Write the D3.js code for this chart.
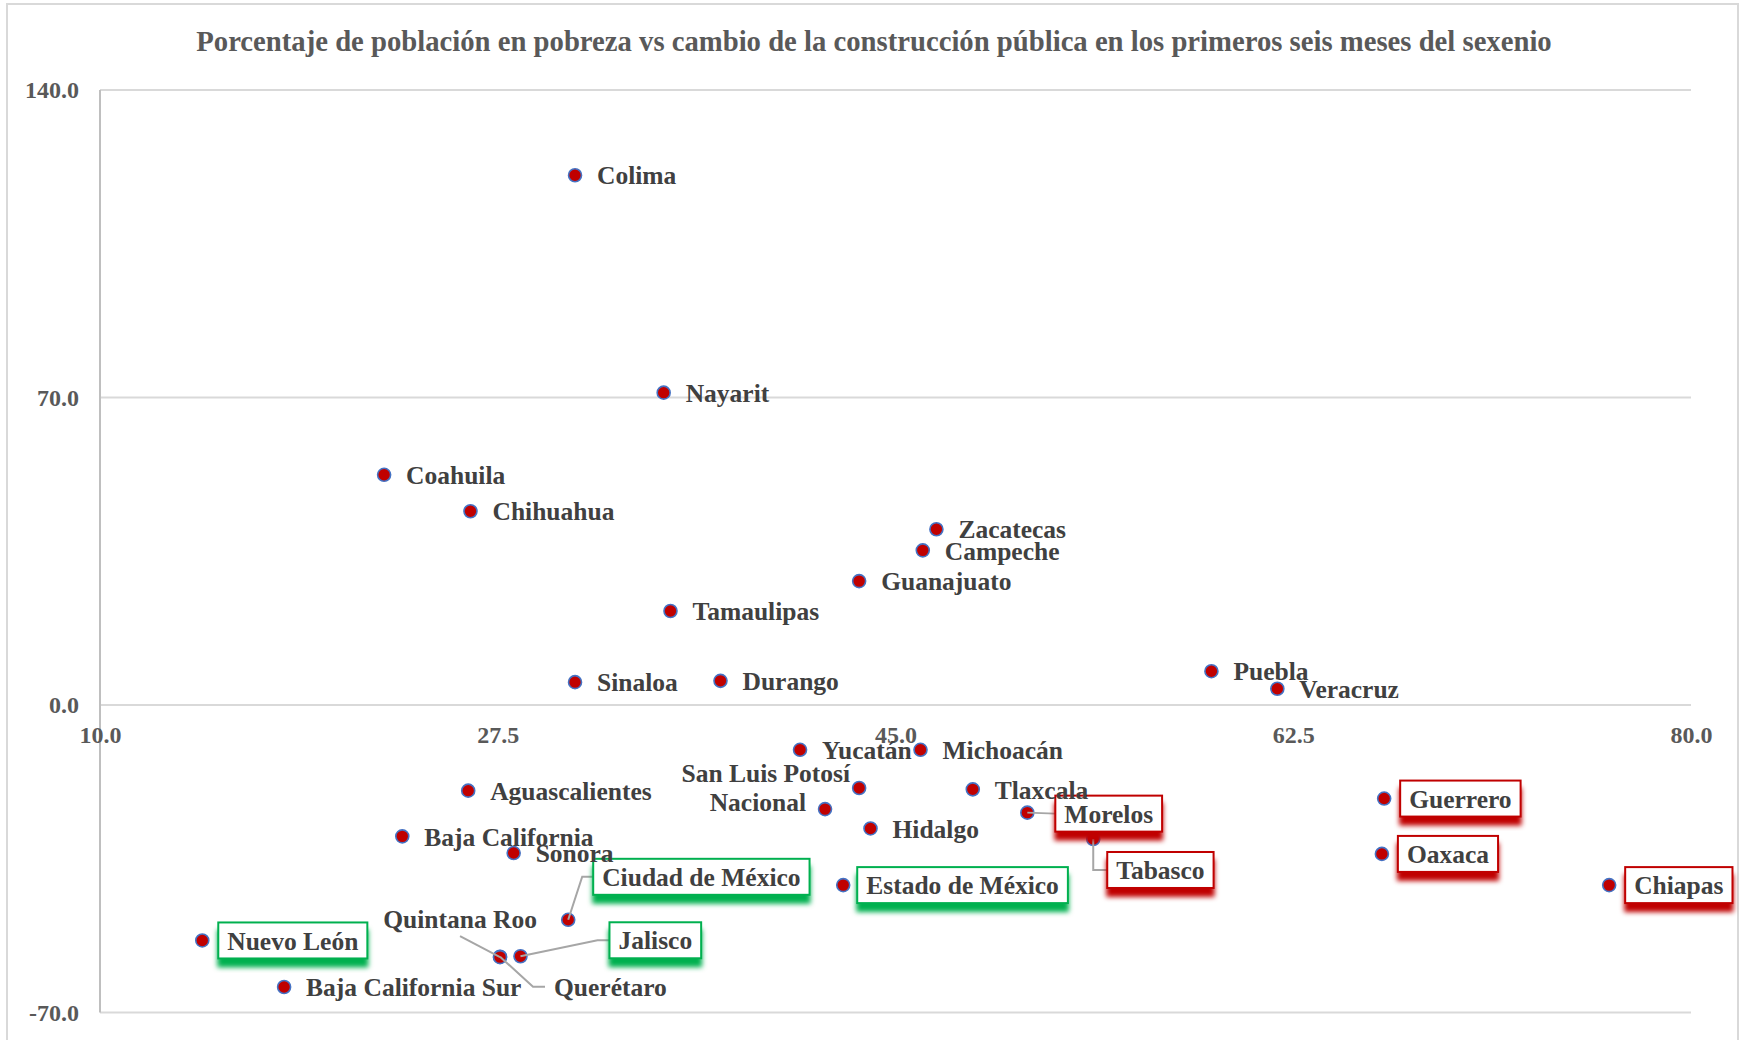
<!DOCTYPE html>
<html>
<head>
<meta charset="utf-8">
<script src="https://cdn.jsdelivr.net/npm/d3@7"></script>
<style>
  body { margin: 0; background: #fff; }
  text { font-family: "Liberation Serif", "Times New Roman", serif; font-weight: bold; }
</style>
</head>
<body>
<div id="chart"></div>
<script>
const title = "Porcentaje de población en pobreza vs cambio de la construcción pública en los primeros seis meses del sexenio";

const states = [
  "Aguascalientes", "Baja California", "Baja California Sur", "Campeche", "Chiapas",
  "Chihuahua", "Ciudad de México", "Coahuila", "Colima", "Durango",
  "Estado de México", "Guanajuato", "Guerrero", "Hidalgo", "Jalisco",
  "Michoacán", "Morelos", "Nayarit", "Nuevo León", "Oaxaca",
  "Puebla", "Querétaro", "Quintana Roo", "San Luis Potosí", "Sinaloa",
  "Sonora", "Tabasco", "Tamaulipas", "Tlaxcala", "Veracruz",
  "Yucatán", "Zacatecas", "Nacional"
];
// % de población en pobreza
const poverty = [
  26.2, 23.3, 18.1, 46.2, 76.4,
  26.3, 30.6, 22.5, 30.9, 37.3,
  42.7, 43.4, 66.5, 43.9, 28.5,
  46.1, 50.8, 34.8, 14.5, 66.4,
  58.9, 27.6, 27.6, 43.4, 30.9,
  28.2, 53.7, 35.1, 48.4, 61.8,
  40.8, 46.8, 41.9
];
// cambio de la construcción pública (%)
const change = [
  -19.5, -29.9, -64.2, 35.2, -41.0,
  44.1, -48.9, 52.4, 120.6, 5.5,
  -41.0, 28.2, -21.3, -28.1, -57.2,
  -10.2, -24.5, 71.1, -53.6, -33.9,
  7.7, -57.3, -57.4, -18.9, 5.2,
  -33.7, -30.5, 21.4, -19.2, 3.7,
  -10.2, 40.0, -23.7
];
const xTicks = [10, 27.5, 45, 62.5, 80];
const yTicks = [-70, 0, 70, 140];
const greenStates = ["Nuevo León", "Ciudad de México", "Jalisco", "Estado de México"];
const redStates = ["Morelos", "Tabasco", "Guerrero", "Oaxaca", "Chiapas"];

// label placement (pixels from the point), default is right of the point
const labelPos = {
  "San Luis Potosí": { dx: -9, dy: -15, anchor: "end" },
  "Nacional": { dx: -19, dy: -7, anchor: "end" },
  "Quintana Roo": { dx: 37, dy: -38, anchor: "end" },
  "Querétaro": { dx: 54, dy: 30 },
  "Nuevo León": { dx: 16, dy: 0 },
  "Ciudad de México": { dx: 25, dy: -43 },
  "Jalisco": { dx: 89, dy: -16 },
  "Estado de México": { dx: 14, dy: 0 },
  "Morelos": { dx: 28, dy: 1 },
  "Tabasco": { dx: 14, dy: 31 },
  "Guerrero": { dx: 16, dy: 0 },
  "Oaxaca": { dx: 16, dy: 0 },
  "Chiapas": { dx: 16, dy: 0 }
};
const leaders = {
  "Ciudad de México": [[0, 0], [14, -43], [25, -43]],
  "Jalisco": [[0, 0], [77, -16], [89, -16]],
  "Morelos": [[0, 0], [28, 1]],
  "Tabasco": [[0, 0], [0, 31], [14, 31]],
  "Quintana Roo": [[0, 0], [-40, -21]],
  "Querétaro": [[0, 0], [33, 30], [45, 30]]
};

const width = 1741, height = 1040;
const margin = { top: 90, right: 50, bottom: 27.5, left: 100 };

const data = states.map((s, i) => ({ name: s, x: poverty[i], y: change[i] }));

const svg = d3.select("#chart").append("svg")
  .attr("width", width)
  .attr("height", height);

const defs = svg.append("defs");
[["shadowGreen", "#00B050"], ["shadowRed", "#C00000"]].forEach(([id, c]) => {
  defs.append("filter").attr("id", id)
    .attr("x", "-10%").attr("y", "-20%").attr("width", "120%").attr("height", "160%")
    .append("feDropShadow")
    .attr("dx", 0).attr("dy", 8).attr("stdDeviation", 2.5)
    .attr("flood-color", c).attr("flood-opacity", 1);
});

// outer frame
svg.append("rect")
  .attr("x", 7).attr("y", 4)
  .attr("width", 1731).attr("height", 1050)
  .attr("fill", "none").attr("stroke", "#D9D9D9").attr("stroke-width", 2);

const x = d3.scaleLinear().domain([10, 80]).range([margin.left, width - margin.right]);
const y = d3.scaleLinear().domain([-70, 140]).range([height - margin.bottom, margin.top]);

// title, fitted to the width it takes in the original
const t = svg.append("text")
  .attr("x", 874).attr("y", 51)
  .attr("text-anchor", "middle")
  .attr("fill", "#595959")
  .attr("font-size", 24)
  .text(title);
const tl = t.node().getComputedTextLength();
t.attr("font-size", 24 * 1356 / tl);

// gridlines
svg.append("g").selectAll("line").data(yTicks).join("line")
  .attr("x1", x(10)).attr("x2", x(80))
  .attr("y1", d => y(d)).attr("y2", d => y(d))
  .attr("stroke", "#D9D9D9").attr("stroke-width", 2);

svg.append("line")
  .attr("x1", x(10)).attr("x2", x(10))
  .attr("y1", y(140)).attr("y2", y(-70))
  .attr("stroke", "#BFBFBF").attr("stroke-width", 2);

const fmt = d => d.toFixed(1);
const yAxis = svg.append("g")
  .attr("transform", `translate(${x(10)},0)`)
  .call(d3.axisLeft(y).tickValues(yTicks).tickSize(0).tickPadding(21).tickFormat(fmt));
const xAxis = svg.append("g")
  .attr("transform", `translate(0,${y(0)})`)
  .call(d3.axisBottom(x).tickValues(xTicks).tickSize(0).tickPadding(21).tickFormat(fmt));
[xAxis, yAxis].forEach(a => {
  a.select(".domain").remove();
  a.selectAll("text")
    .attr("font-family", "Liberation Serif, serif")
    .attr("font-weight", "bold")
    .attr("font-size", 24)
    .attr("fill", "#595959");
});

// points
svg.append("g").selectAll("circle").data(data).join("circle")
  .attr("cx", d => x(d.x))
  .attr("cy", d => y(d.y))
  .attr("r", 6.5)
  .attr("fill", "#C00000")
  .attr("stroke", "#4472C4")
  .attr("stroke-width", 1.6);

// leader lines
svg.append("g").selectAll("path").data(data.filter(d => leaders[d.name])).join("path")
  .attr("d", d => d3.line()(leaders[d.name].map(p => [x(d.x) + p[0], y(d.y) + p[1]])))
  .attr("fill", "none")
  .attr("stroke", "#A6A6A6")
  .attr("stroke-width", 2);

// labels
const labels = svg.append("g");
data.forEach(d => {
  const pos = labelPos[d.name] || { dx: 22, dy: 0 };
  const cx = x(d.x) + pos.dx;
  const cy = y(d.y) + pos.dy;
  const boxColor = greenStates.includes(d.name) ? "#00B050"
    : redStates.includes(d.name) ? "#C00000" : null;
  const g = labels.append("g");
  if (boxColor) {
    const rect = g.append("rect");
    const txt = g.append("text")
      .attr("x", cx + 9).attr("y", cy)
      .attr("dy", "0.36em")
      .attr("font-size", 25.5)
      .attr("fill", "#404040")
      .text(d.name);
    const w = txt.node().getComputedTextLength();
    rect.attr("x", cx).attr("y", cy - 18)
      .attr("width", w + 18).attr("height", 36)
      .attr("fill", "#fff")
      .attr("stroke", boxColor).attr("stroke-width", 2)
      .attr("filter", `url(#${boxColor === "#00B050" ? "shadowGreen" : "shadowRed"})`);
  } else {
    g.append("text")
      .attr("x", cx).attr("y", cy)
      .attr("dy", "0.36em")
      .attr("text-anchor", pos.anchor || "start")
      .attr("font-size", 25.5)
      .attr("fill", "#404040")
      .text(d.name);
  }
});
</script>
</body>
</html>
